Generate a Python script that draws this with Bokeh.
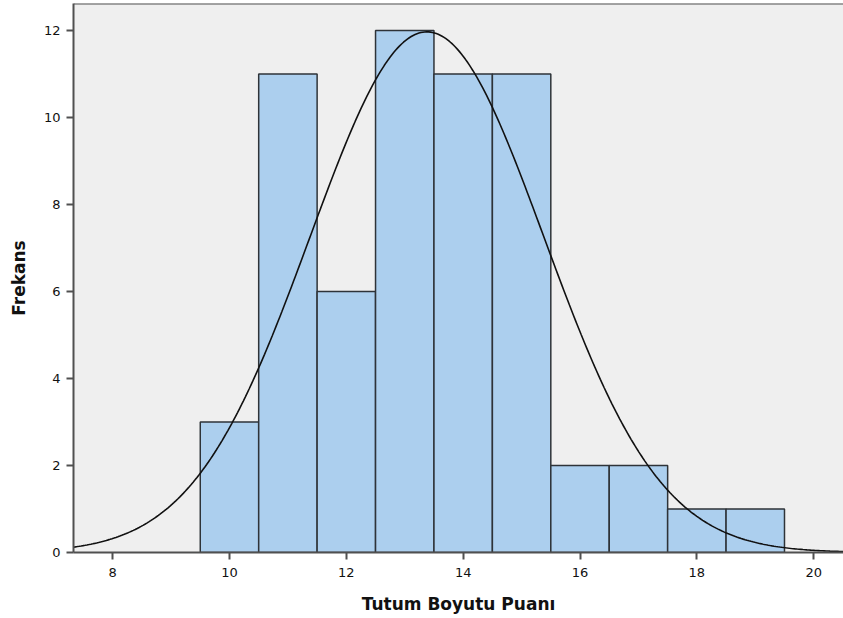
import numpy as np
from bokeh.plotting import figure
from bokeh.models import Range1d, FixedTicker, Span
from bokeh.embed import file_html
from bokeh.resources import INLINE

# Histogram data (bin centres and frequencies)
bin_centers = [10, 11, 12, 13, 14, 15, 16, 17, 18, 19]
frequencies = [3, 11, 6, 12, 11, 11, 2, 2, 1, 1]
bin_width = 1.0
# Fitted normal curve parameters
fit_mean = 13.38
fit_sd = 2.0
x_ticks = [8, 10, 12, 14, 16, 18, 20]
y_ticks = [0, 2, 4, 6, 8, 10, 12]

n_total = sum(frequencies)
x_lo, x_hi = 7.33, 20.51
y_lo, y_hi = 0, 12.62

p = figure(width=843, height=618, output_backend="svg", toolbar_location=None,
           x_range=Range1d(x_lo, x_hi), y_range=Range1d(y_lo, y_hi),
           min_border_left=73, min_border_right=0, min_border_top=3, min_border_bottom=66)

p.background_fill_color = "#efefef"
p.border_fill_color = "white"
p.outline_line_color = None
p.xgrid.visible = False
p.ygrid.visible = False

lefts = [c - bin_width / 2 for c in bin_centers]
rights = [c + bin_width / 2 for c in bin_centers]
p.quad(left=lefts, right=rights, bottom=0, top=frequencies,
       fill_color="#accfee", line_color="#2e3338", line_width=1.5)

xs = np.linspace(x_lo, x_hi, 400)
ys = n_total * bin_width / (fit_sd * np.sqrt(2 * np.pi)) * np.exp(-0.5 * ((xs - fit_mean) / fit_sd) ** 2)
p.line(xs, ys, line_color="#111111", line_width=1.6)

# top frame line (frame continues past the right edge in the original)
p.add_layout(Span(location=y_hi, dimension="width", line_color="#505050", line_width=2))

for ax in (p.xaxis[0], p.yaxis[0]):
    ax.axis_line_color = "#505050"
    ax.axis_line_width = 2
    ax.major_tick_line_color = "#505050"
    ax.major_tick_line_width = 2
    ax.major_tick_out = 7
    ax.major_tick_in = 0
    ax.minor_tick_line_color = None
    ax.major_label_text_font = "DejaVu Sans"
    ax.major_label_text_font_size = "13px"
    ax.major_label_text_color = "#111111"
    ax.axis_label_text_font = "DejaVu Sans"
    ax.axis_label_text_font_style = "bold"
    ax.axis_label_text_font_size = "17px"
    ax.axis_label_text_color = "#111111"

p.xaxis.ticker = FixedTicker(ticks=x_ticks)
p.yaxis.ticker = FixedTicker(ticks=y_ticks)
p.xaxis.axis_label = "Tutum Boyutu Puanı"
p.yaxis.axis_label = "Frekans"
p.xaxis.major_label_standoff = 8
p.yaxis.major_label_standoff = 6
p.xaxis.axis_label_standoff = 14
p.yaxis.axis_label_standoff = 12

open("out.html", "w").write(file_html(p, INLINE))
